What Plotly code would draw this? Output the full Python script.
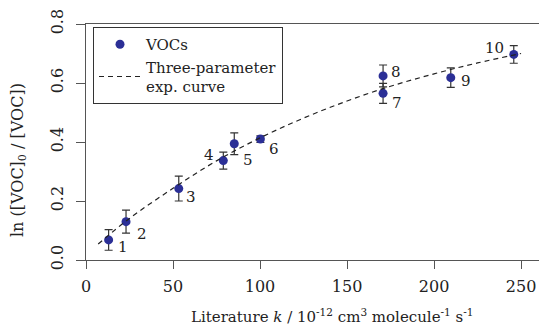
import plotly.graph_objects as go

# Data
k_lit = [13.0, 23.0, 53.3, 78.9, 85.2, 100.2, 170.7, 170.7, 209.6, 245.8]
ln_ratio = [0.068, 0.130, 0.242, 0.337, 0.394, 0.410, 0.565, 0.624, 0.618, 0.697]
err = [0.035, 0.039, 0.042, 0.029, 0.037, 0.011, 0.034, 0.037, 0.033, 0.030]
point_labels = ["1", "2", "3", "4", "5", "6", "7", "8", "9", "10"]
label_dx = [14, 16, 12, -14, 14, 14, 14, 13, 15, -19]
label_dy = [-7, -12, -8, 6, -16, -10, -10, 4, -3, 6]

curve_k = [7, 25, 50, 75, 100, 125, 150, 175, 200, 225, 250]
curve_y = [0.054, 0.141, 0.243, 0.336, 0.414, 0.481, 0.539, 0.589, 0.631, 0.668, 0.700]

FONT = "DejaVu Serif"
AXC = "#555555"
MARK = "#2B2F96"
TXT = "#222222"
TS = 16   # tick label size
LS = 15   # other text size

fig = go.Figure()
fig.add_trace(go.Scatter(
    x=k_lit, y=ln_ratio, mode="markers", name="VOCs",
    marker=dict(color=MARK, size=9),
    error_y=dict(type="data", array=err, visible=True, color="#333333",
                 thickness=1.2, width=4),
))
fig.add_trace(go.Scatter(
    x=curve_k, y=curve_y, mode="lines", name="Three-parameter<br>exp. curve",
    line=dict(color="#222222", width=1.2, dash="5px,4px", shape="spline"),
))

for xv, yv, t, dx, dy in zip(k_lit, ln_ratio, point_labels, label_dx, label_dy):
    fig.add_annotation(x=xv, y=yv, text=t, showarrow=False, xshift=dx, yshift=dy,
                       xanchor="center", yanchor="middle",
                       font=dict(family=FONT, size=LS, color=TXT))

fig.add_annotation(xref="paper", yref="paper", x=(18 - 86) / 453, y=(260 - 160) / 236,
                   xanchor="center", yanchor="middle",
                   text="ln ([VOC]<sub>0</sub> / [VOC])", textangle=-90, showarrow=False,
                   font=dict(family=FONT, size=16, color=TXT))
fig.add_annotation(xref="paper", yref="paper", x=(332 - 86) / 453, y=(260 - 316) / 236,
                   xanchor="center", yanchor="middle",
                   text="Literature <i>k</i> / 10<sup>-12</sup> cm<sup>3</sup> molecule<sup>-1</sup> s<sup>-1</sup>",
                   showarrow=False,
                   font=dict(family=FONT, size=LS, color=TXT))

fig.update_layout(
    width=539, height=327,
    margin=dict(l=86, r=0, t=24, b=67),
    paper_bgcolor="white", plot_bgcolor="white",
    font=dict(family=FONT, size=LS, color=TXT),
    showlegend=True,
    legend=dict(x=(93 - 86) / 453, y=(260 - 27) / 236, xanchor="left", yanchor="top",
                bordercolor="#333333", borderwidth=1, bgcolor="white",
                font=dict(family=FONT, size=LS, color=TXT),
                tracegroupgap=0, itemwidth=42),
)
fig.update_xaxes(range=[0, 260.3], showgrid=False, zeroline=False,
                 showline=True, linecolor=AXC, linewidth=1.3, mirror=True,
                 ticks="outside", ticklen=8, tickcolor=AXC, tickwidth=1.3,
                 tickvals=[0, 50, 100, 150, 200, 250], ticklabelstandoff=4,
                 ticklabeloverflow="allow",
                 tickfont=dict(family=FONT, size=TS, color=TXT))
fig.update_yaxes(range=[0, 0.8], showgrid=False, zeroline=False,
                 showline=True, linecolor=AXC, linewidth=1.3,
                 ticks="outside", ticklen=9, tickcolor=AXC, tickwidth=1.3,
                 tickvals=[0, 0.2, 0.4, 0.6, 0.8], ticktext=["0.0", "0.2", "0.4", "0.6", "0.8"],
                 tickangle=-90, ticklabelstandoff=6,
                 tickfont=dict(family=FONT, size=TS, color=TXT))

fig.write_html("out.html")
